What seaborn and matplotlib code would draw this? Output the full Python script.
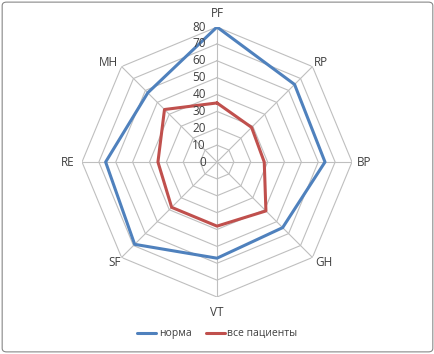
import numpy as np
import pandas as pd
import seaborn as sns
import matplotlib.pyplot as plt
from matplotlib.patches import FancyBboxPatch

categories = ['PF', 'RP', 'BP', 'GH', 'VT', 'SF', 'RE', 'MH']
norma = [80, 65, 64, 55, 57, 69, 66, 58]
patients = [35, 29, 28, 41, 38, 38, 35, 44]
series_names = ['норма', 'все пациенты']
ticks = [0, 10, 20, 30, 40, 50, 60, 70, 80]

sns.set_style("white")
plt.rcParams['font.family'] = ['Open Sans', 'DejaVu Sans']

n = len(categories)
angles = np.linspace(0, 2 * np.pi, n, endpoint=False)
ang_closed = np.append(angles, 2 * np.pi)

rows = []
for name, vals in zip(series_names, [norma, patients]):
    vals_closed = list(vals) + [vals[0]]
    for a, v in zip(ang_closed, vals_closed):
        rows.append({'angle': a, 'value': v, 'series': name})
df = pd.DataFrame(rows)

fig = plt.figure(figsize=(4.35, 3.54), dpi=100)
ax = fig.add_axes([0.1885, 0.161, 0.6207, 0.7627], projection='polar')
ax.set_theta_zero_location('N')
ax.set_theta_direction(-1)
ax.set_ylim(0, 80)
ax.grid(False)
ax.spines['polar'].set_visible(False)
ax.set_xticks([])
ax.set_yticks([])

grid_col = '#bfbfbf'
for t in ticks[1:]:
    ax.plot(ang_closed, [t] * (n + 1), color=grid_col, lw=0.8, zorder=1)
for a in angles:
    ax.plot([a, a], [0, 80], color=grid_col, lw=0.8, zorder=1)

sns.lineplot(data=df, x='angle', y='value', hue='series', estimator=None, sort=False,
             palette=['#4f81bd', '#c0504d'], linewidth=2.2, ax=ax, zorder=3)
ax.set_xlabel('')
ax.set_ylabel('')

for t in ticks:
    ax.annotate(str(t), xy=(0, t), xytext=(-11, 0), textcoords='offset pixels',
                ha='right', va='center', fontsize=8.5, color='#404040')

# label placement (offset in pixels, alignment) per category, as in the reference
label_pos = {
    'PF': ((0, 14), 'center'),
    'RP': ((1, 4), 'left'),
    'BP': ((5, 0), 'left'),
    'GH': ((3, -5), 'left'),
    'VT': ((0, -15), 'center'),
    'SF': ((-1, -5), 'right'),
    'RE': ((-8, 0), 'right'),
    'MH': ((-4, 4), 'right'),
}
for a, c in zip(angles, categories):
    off, ha = label_pos[c]
    ax.annotate(c, xy=(a, 80), xytext=off, textcoords='offset pixels',
                ha=ha, va='center', fontsize=8.5, color='#404040')

handles, labels = ax.get_legend_handles_labels()
ax.get_legend().remove()
fig.legend(handles, labels, loc='center', bbox_to_anchor=(0.5, 0.057), ncol=2,
           frameon=False, fontsize=7.5, handlelength=1.8, handletextpad=0.25,
           columnspacing=1.4, labelcolor='#404040')

fig.patches.append(FancyBboxPatch((0.005, 0.006), 0.99, 0.988, boxstyle='round,pad=0,rounding_size=0.01',
                                  transform=fig.transFigure, fill=False, edgecolor='#888888', lw=0.8))

fig.savefig('out.png', dpi=100)
